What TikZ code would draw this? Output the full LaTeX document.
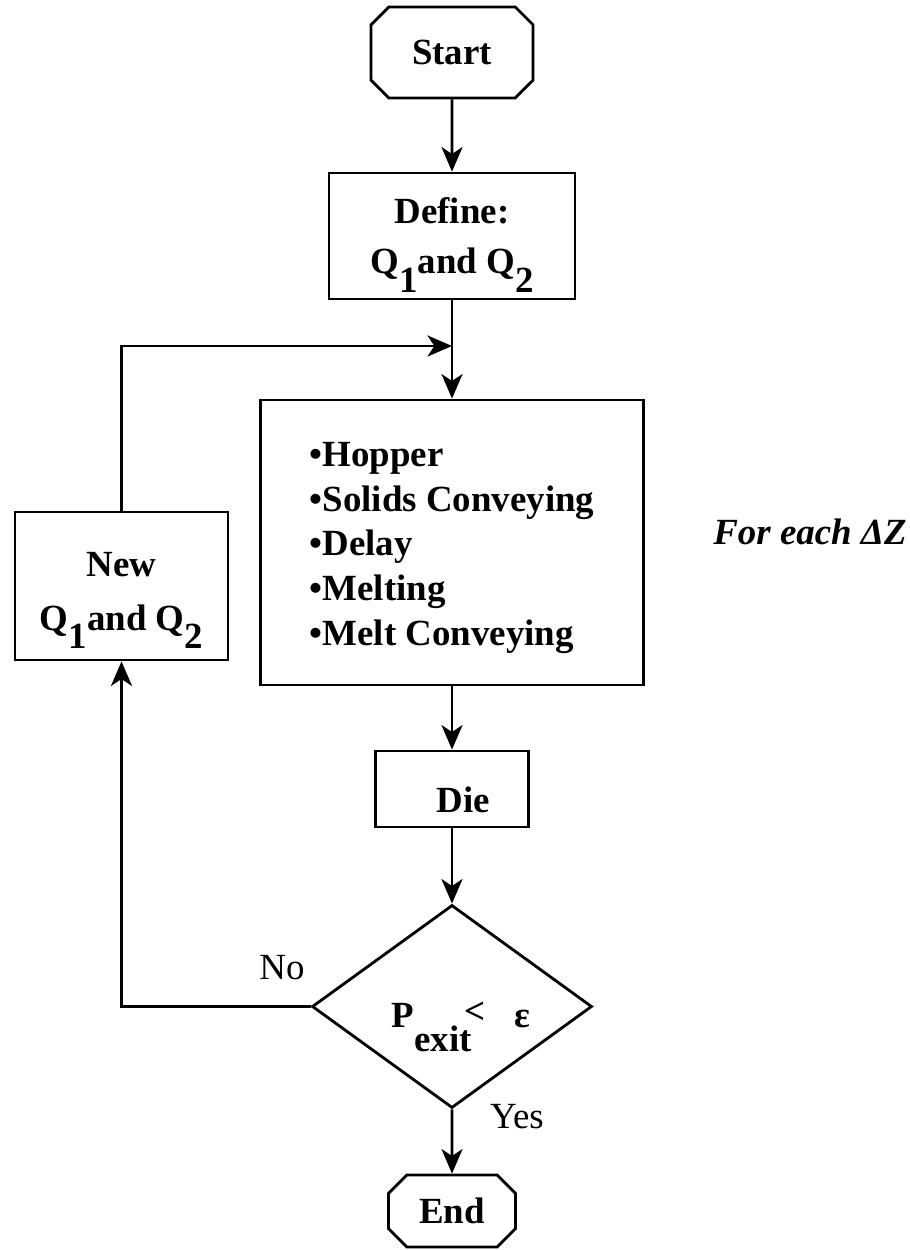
\documentclass[tikz,border=0pt]{standalone}
\usepackage{fontspec}
\setmainfont{Liberation Serif}
\usetikzlibrary{arrows.meta,positioning,shapes.geometric,shapes.misc}

\newcommand\lowidx[1]{\raisebox{-0.5em}{#1}}

\begin{document}
\begin{tikzpicture}[
  >={Stealth[length=14pt,width=12pt,inset=4pt]},
  every node/.style={font=\fontsize{21}{25.5}\selectfont\bfseries, inner sep=0pt},
  block/.style={draw, line width=1.6pt},
  terminal/.style={
    draw, line width=1.6pt, chamfered rectangle,
    chamfered rectangle angle=45, chamfered rectangle xsep=0.34cm
  },
  decision/.style={draw, line width=1.6pt, diamond, aspect=1.38},
  flowline/.style={line width=1.6pt},
  arrow/.style={->, line width=1.6pt},
  tag/.style={font=\fontsize{21}{25.5}\selectfont}
]

\def\xc{9.04}

\useasboundingbox (0,0) rectangle (18.18,-25);

% Main column
\node[terminal, minimum width=3.24cm, minimum height=1.82cm] (start) at (\xc,-1.05) {Start};

\node[block, align=center, minimum width=4.92cm, minimum height=2.52cm] (define) at (\xc,-4.72) {
  \rule{0pt}{1.2em}Define:\\[3pt]
  Q\lowidx{1}and Q\lowidx{2}
};

\coordinate (join) at (\xc,-6.92);

\node[block, align=left, minimum width=7.66cm, minimum height=5.7cm] (stages) at (\xc,-10.85) {
  \rule{0pt}{0.95em}•Hopper\\
  •Solids Conveying\\
  •Delay\\
  •Melting\\
  •Melt Conveying
};

\node[block, minimum width=3.06cm, minimum height=1.52cm, text height=27pt, text depth=0pt] (die) at (\xc,-15.78) {\hspace{0.6em}Die};

\node[decision, minimum width=5.6cm, minimum height=4.06cm, text height=31.5pt, text depth=7.6pt] (check) at (\xc,-20.13) {
  \hspace{0.5em}P\raisebox{-0.65em}{exit}\hspace{-0.2em}\raisebox{0.1em}{<}\hspace{0.8em}ε
};

\node[terminal, minimum width=2.54cm, minimum height=1.44cm] (stop) at (\xc,-24.22) {End};

% Feedback box
\node[block, align=center, minimum width=4.26cm, minimum height=2.96cm] (newq) at (2.43,-11.72) {
  \rule{0pt}{1.45em}New\\[5pt]
  Q\lowidx{1}and Q\lowidx{2}
};

% Labels
\node[tag] (no) at (5.64,-19.36) {No};
\node[tag] (yes) at (10.34,-22.34) {Yes};
\node[font=\fontsize{21}{25.5}\selectfont\bfseries\itshape] (foreach) at (16.2,-10.64) {For each ΔZ};

% Connecting Arrows
\draw[arrow] (start) -- (define);
\draw[flowline] (define) -- (join);
\draw[arrow] (join) -- (stages);
\draw[arrow] (stages) -- (die);
\draw[arrow] (die) -- (check);
\draw[arrow] (check) -- (stop);
\draw[arrow] (check.west) -| (newq.south);
\draw[arrow] (newq.north) |- (join);

\end{tikzpicture}
\end{document}
